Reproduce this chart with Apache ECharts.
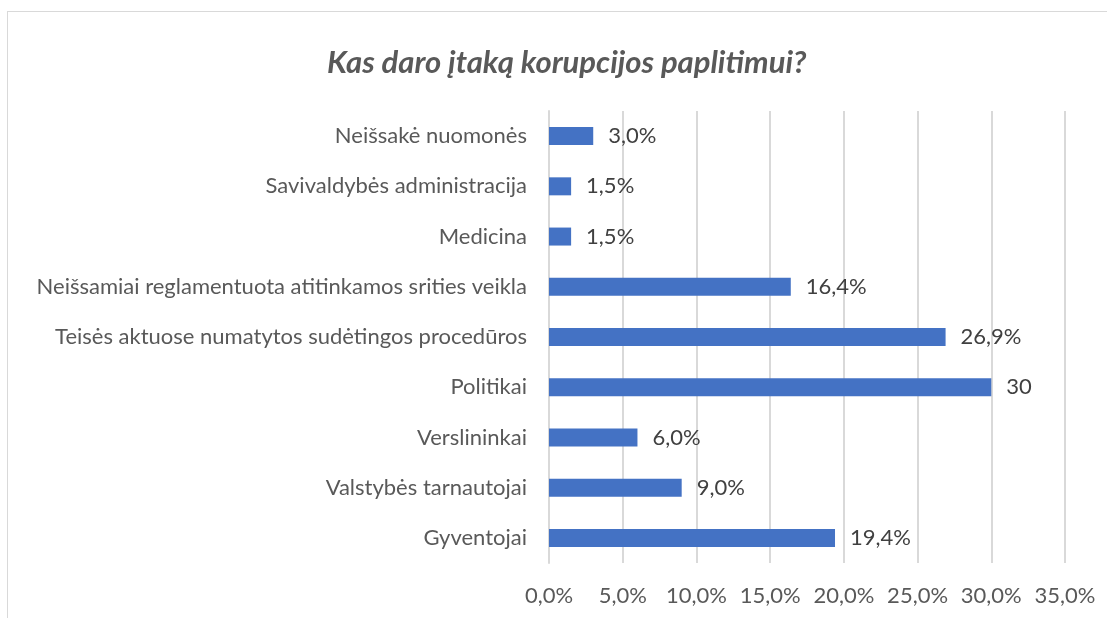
<!DOCTYPE html>
<html>
<head>
<meta charset="utf-8">
<script src="https://cdn.jsdelivr.net/npm/echarts@6/dist/echarts.min.js"></script>
<style>
  html, body { margin: 0; padding: 0; background: #fff; overflow: hidden; }
  #frame { position: absolute; left: 7px; top: 11px; width: 1130px; height: 640px; border: 1px solid #d9d9d9; box-sizing: border-box; }
  #chart { position: absolute; left: 0; top: 0; width: 1107px; height: 618px; }
</style>
</head>
<body>
<div id="frame"></div>
<div id="chart"></div>
<script>
// kategorijos iš viršaus į apačią
const categories = [
  'Neišsakė nuomonės',
  'Savivaldybės administracija',
  'Medicina',
  'Neišsamiai reglamentuota atitinkamos srities veikla',
  'Teisės aktuose numatytos sudėtingos procedūros',
  'Politikai',
  'Verslininkai',
  'Valstybės tarnautojai',
  'Gyventojai'
]
const values = [3.0, 1.5, 1.5, 16.4, 26.9, 30, 6.0, 9.0, 19.4]
const valueLabels = ['3,0%', '1,5%', '1,5%', '16,4%', '26,9%', '30', '6,0%', '9,0%', '19,4%']
const tickLabels = ['0,0%', '5,0%', '10,0%', '15,0%', '20,0%', '25,0%', '30,0%', '35,0%']

;(function () {
  let myChart = echarts.init(document.getElementById('chart'))
  let font = 'Lato, "Open Sans", sans-serif'
  let option = {
    animation: false,
    title: {
      text: 'Kas daro įtaką korupcijos paplitimui?',
      left: 322,
      top: 42,
      textStyle: {
        fontFamily: font,
        fontSize: 31,
        fontStyle: 'italic',
        fontWeight: 'bold',
        color: '#595959'
      }
    },
    grid: {
      left: 549,
      right: 42,
      top: 111,
      bottom: 55,
      containLabel: false
    },
    xAxis: {
      type: 'value',
      min: 0,
      max: 35,
      interval: 5,
      axisLine: { show: false },
      axisTick: { show: false },
      splitLine: { lineStyle: { color: '#d9d9d9', width: 2 } },
      axisLabel: {
        color: '#595959',
        fontFamily: font,
        fontSize: 22,
        margin: 22,
        formatter: function (v) { return tickLabels[Math.round(v / 5)] }
      }
    },
    yAxis: {
      type: 'category',
      inverse: true,
      data: categories,
      axisLine: { show: true, lineStyle: { color: '#d9d9d9', width: 2 } },
      axisTick: { show: false },
      axisLabel: {
        color: '#595959',
        fontFamily: font,
        fontSize: 22,
        margin: 22
      }
    },
    series: [
      {
        type: 'bar',
        data: values,
        barWidth: 18,
        itemStyle: { color: '#4472c4' },
        label: {
          show: true,
          position: 'right',
          distance: 15,
          color: '#404040',
          fontFamily: font,
          fontSize: 22,
          formatter: function (p) { return valueLabels[p.dataIndex] }
        }
      }
    ]
  }
  myChart.setOption(option)
})()
</script>
</body>
</html>
